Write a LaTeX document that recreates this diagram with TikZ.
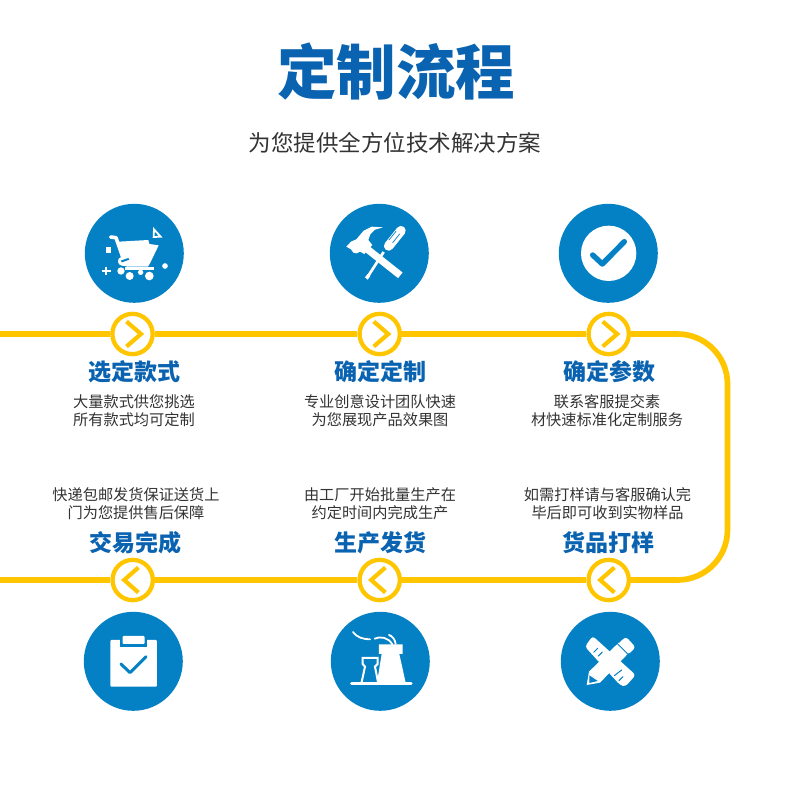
\documentclass[tikz,border=0pt]{standalone}
\usepackage{fontspec}
\setmainfont{Noto Sans CJK SC}
\usetikzlibrary{calc}
\definecolor{iconblue}{HTML}{0481C4}
\definecolor{headblue}{HTML}{0A63B1}
\definecolor{lineyellow}{HTML}{FFC600}
\definecolor{bodygrey}{HTML}{333333}
\tikzset{
  badge/.style={circle,fill=iconblue,minimum size=99pt,inner sep=0pt},
  ring/.style={circle,draw=lineyellow,line width=4.3pt,fill=white,minimum size=40.3pt,inner sep=0pt},
  track/.style={draw=lineyellow,line width=5.7pt},
  chevron/.style={draw=lineyellow,line width=4.2pt},
  headtext/.style={text=headblue,font=\fontsize{23}{26}\selectfont\bfseries,inner sep=0pt},
  bodytext/.style={text=bodygrey,font=\fontsize{15.2}{18.4}\selectfont,align=center,inner sep=0pt},
  icon/.style={x=0.3333pt,y=-0.3333pt},
  wl/.style={draw=white,line cap=round,line join=round},
  bl/.style={draw=iconblue,line cap=round,line join=round},
}
\begin{document}
\begin{tikzpicture}[x=1pt,y=-1pt]
\useasboundingbox (0,0) rectangle (796,796);
\fill[white] (0,0) rectangle (796,796);
% titles
\node[text=headblue,inner sep=0pt,font=\fontsize{59.5}{62}\selectfont\bfseries] (title) at (396,72) {定制流程};
\node[text=bodygrey,inner sep=0pt,font=\fontsize{22.5}{25}\selectfont] (subtitle) at (395,143) {为您提供全方位技术解决方案};
% track
\coordinate (leftA) at (0,334);
\coordinate (leftB) at (0,580);
\coordinate (cornerTR) at (727.5,334);
\coordinate (cornerBR) at (727.5,580);
\node[ring] (r1) at (132.5,334) {};
\node[ring] (r2) at (379.7,334) {};
\node[ring] (r3) at (608.7,334) {};
\node[ring] (r4) at (608.7,580) {};
\node[ring] (r5) at (379.7,580) {};
\node[ring] (r6) at (132.7,580) {};
\draw[track] (leftA) -- (r1);
\draw[track] (r1) -- (r2);
\draw[track] (r2) -- (r3);
\draw[track,rounded corners=50pt] (r3) -- (cornerTR) -- (cornerBR) -- (r4);
\draw[track] (r4) -- (r5);
\draw[track] (r5) -- (r6);
\draw[track] (r6) -- (leftB);
% chevrons
\foreach \n in {r1,r2,r3}{
  \draw[chevron] ($(\n)+(-6,-12.5)$) -- ($(\n)+(8.5,0)$) -- ($(\n)+(-6,12.5)$);
}
\foreach \n in {r4,r5,r6}{
  \draw[chevron] ($(\n)+(5.7,-12.5)$) -- ($(\n)+(-8.5,0)$) -- ($(\n)+(5.7,12.5)$);
}
% badges
\node[badge] (b1) at (134.3,253.3) {};
\node[badge] (b2) at (379.3,253.3) {};
\node[badge] (b3) at (608.3,253.3) {};
\node[badge] (b6) at (133.3,661.3) {};
\node[badge] (b5) at (380.3,661.3) {};
\node[badge] (b4) at (610.3,661.3) {};
% icon: cart
\begin{scope}[xshift=70pt,yshift=-190pt,icon]
  \draw[wl,line width=3.6pt] (122,141) -- (138,143) -- (162,212);
  \fill[white] (146,155) -- (235,150) -- (238,162) -- (266,166) -- (242,216) -- (234,230) -- (170,230) -- (160,200) -- cycle;
  \fill[white,rounded corners=3pt] (143,204) -- (176,198) -- (182,230) -- (146,226) -- cycle;
  \fill[iconblue] (152,212) -- (175,204) -- (178,209) -- (156,217) -- cycle;
  \fill[white] (165,230) rectangle (252,240);
  \fill[white] (153,243) circle (11);
  \fill[white] (179,258) circle (12);
  \fill[white] (238,258) circle (13);
  \fill[white] (212,247) circle (8);
  \fill[white] (107,172) rectangle (124,189);
  \draw[white,line width=1.9pt] (96,243) -- (122,243) (109,230) -- (109,256);
  \fill[white] (285,228) circle (8.5);
  \draw[white,line width=1.8pt,line join=miter] (252,118) -- (272,140) -- (251,141) -- cycle;
\end{scope}
% icon: tools
\begin{scope}[xshift=315pt,yshift=-190pt,icon]
  \draw[white,line width=2.7pt] (206,186) -- (157,262);
  \fill[white] (150,262) -- (158,269) -- (166,258) -- (158,252) -- cycle;
  \draw[wl,line width=9.5pt] (258,122) -- (221,168);
  \draw[bl,line width=0.7pt] (243,124) -- (222,150) (254,132) -- (233,158);
  \draw[white,line width=7.2pt] (145,168) -- (256,256);
  \fill[white] (94,170) -- (108,155) -- (124,148) -- (146,122) -- (170,110) -- (204,112) -- (180,119) -- (166,133) -- (160,150) -- (172,165) -- (148,192) -- (135,185) -- (125,190) -- (115,188) -- (108,178) -- cycle;
\end{scope}
% icon: check
\begin{scope}[xshift=545pt,yshift=-190pt,icon]
  \fill[white] (191,190) circle (83);
  \draw[bl,line width=5.4pt] (143,195) -- (172,222) -- (238,155);
\end{scope}
% icon: clipboard
\begin{scope}[xshift=70pt,yshift=-550pt,icon]
  \fill[white,rounded corners=1pt] (121,270) rectangle (261,410);
  \fill[iconblue] (150,250) rectangle (232,290);
  \fill[white,rounded corners=1pt] (158,258) rectangle (224,282);
  \draw[bl,line width=3pt] (153,342) -- (180,368) -- (228,320);
\end{scope}
% icon: factory
\begin{scope}[xshift=315pt,yshift=-550pt,icon]
  \draw[wl,line width=3.4pt] (110,400) -- (288,400);
  \fill[white] (192,283) -- (263,283) -- (263,312) -- (253,312) -- (272,398) -- (186,398) -- (200,312) -- (192,312) -- cycle;
  \draw[white,line width=2pt,line join=miter] (140,396) -- (150,350) -- (143,342) -- (143,324) -- (188,324) -- (188,342) -- (180,350) -- (189,396);
  \draw[wl,line width=1.8pt] (114,246) .. controls (125,262) and (145,268) .. (165,268);
  \draw[wl,line width=1.8pt] (179,266) .. controls (195,258) and (220,262) .. (232,283);
  \draw[wl,line width=1.8pt] (222,255) .. controls (232,258) and (240,268) .. (242,282);
\end{scope}
% icon: pencil and ruler
\begin{scope}[xshift=545pt,yshift=-550pt,icon]
  % ruler
  \fill[white,rounded corners=3pt] (120,290) -- (143,258) -- (272,375) -- (241,410) -- (225,405) -- cycle;
  % pencil body
  \fill[white] (132,365) -- (222,277) -- (250,310) -- (165,398) -- cycle;
  \fill[white] (125,405) -- (132,365) -- (165,398) -- cycle;
  \fill[iconblue] (133,376) -- (158,393) -- (133,399) -- cycle;
  % pencil end
  \fill[white,rounded corners=3pt] (218,282) -- (243,260) -- (272,292) -- (250,314) -- cycle;
  \draw[iconblue,line width=0.9pt] (214,278) -- (252,316);
  % ruler ticks
  \draw[bl,line width=1pt] (146,307) -- (158,295) (160,318) -- (172,306);
  \draw[bl,line width=1pt] (208,377) -- (230,360) (222,392) -- (234,380);
\end{scope}
% labels: top row
\node[headtext] (h1) at (134,372) {选定款式};
\node[bodytext] (t1) at (134,410.5) {大量款式供您挑选\\所有款式均可定制};
\node[headtext] (h2) at (380,372) {确定定制};
\node[bodytext] (t2) at (380,411) {专业创意设计团队快速\\为您展现产品效果图};
\node[headtext] (h3) at (609,372) {确定参数};
\node[bodytext] (t3) at (607,410.5) {联系客服提交素\\材快速标准化定制服务};
% labels: bottom row
\node[bodytext] (t6) at (136,503.5) {快递包邮发货保证送货上\\门为您提供售后保障};
\node[headtext] (h6) at (135,543) {交易完成};
\node[bodytext] (t5) at (380,503.5) {由工厂开始批量生产在\\约定时间内完成生产};
\node[headtext] (h5) at (380,543) {生产发货};
\node[bodytext] (t4) at (607.5,503.5) {如需打样请与客服确认完\\毕后即可收到实物样品};
\node[headtext] (h4) at (608,543) {货品打样};
\end{tikzpicture}
\end{document}
